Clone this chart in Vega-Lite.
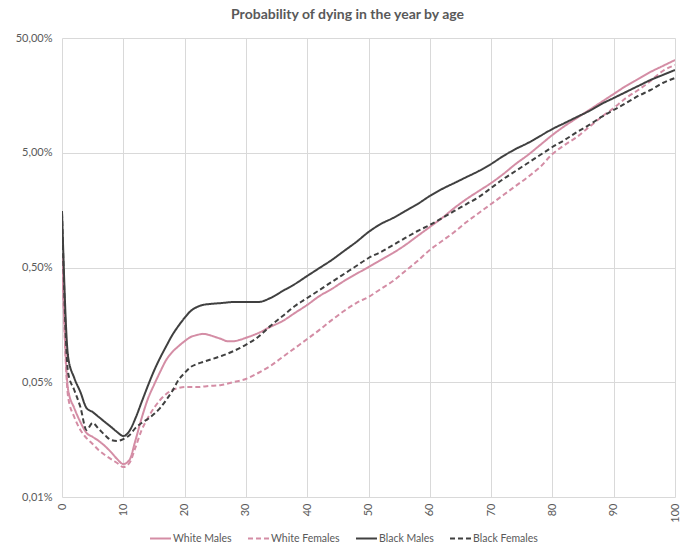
{
  "$schema": "https://vega.github.io/schema/vega-lite/v6.json",
  "width": 613,
  "height": 459,
  "autosize": "none",
  "padding": {"left": 62, "top": 38, "right": 10, "bottom": 56},
  "background": "white",
  "title": {"text": "Probability of dying in the year by age", "font": "Lato", "fontSize": 14, "fontWeight": "bold", "color": "#595959", "anchor": "middle", "frame": "bounds", "offset": 10},
  "data": {"values": [
    {"age":0,"group":"White Males","p":0.00642},{"age":1,"group":"White Males","p":0.000428},{"age":2,"group":"White Males","p":0.000298},{"age":3,"group":"White Males","p":0.000225},{"age":4,"group":"White Males","p":0.000181},{"age":5,"group":"White Males","p":0.000167},{"age":6,"group":"White Males","p":0.000154},{"age":7,"group":"White Males","p":0.000139},{"age":8,"group":"White Males","p":0.000123},{"age":9,"group":"White Males","p":0.000107},{"age":10,"group":"White Males","p":0.0000969},{"age":11,"group":"White Males","p":0.000105},{"age":12,"group":"White Males","p":0.000157},{"age":13,"group":"White Males","p":0.000244},{"age":14,"group":"White Males","p":0.000357},{"age":15,"group":"White Males","p":0.000473},{"age":16,"group":"White Males","p":0.000614},{"age":17,"group":"White Males","p":0.000782},{"age":18,"group":"White Males","p":0.000918},{"age":19,"group":"White Males","p":0.00103},{"age":20,"group":"White Males","p":0.00114},{"age":21,"group":"White Males","p":0.00124},{"age":22,"group":"White Males","p":0.00129},{"age":23,"group":"White Males","p":0.00132},{"age":24,"group":"White Males","p":0.00129},{"age":25,"group":"White Males","p":0.00124},{"age":26,"group":"White Males","p":0.00119},{"age":27,"group":"White Males","p":0.00114},{"age":28,"group":"White Males","p":0.00114},{"age":29,"group":"White Males","p":0.00117},{"age":30,"group":"White Males","p":0.00122},{"age":32,"group":"White Males","p":0.00134},{"age":34,"group":"White Males","p":0.00152},{"age":36,"group":"White Males","p":0.00171},{"age":38,"group":"White Males","p":0.00201},{"age":40,"group":"White Males","p":0.00236},{"age":42,"group":"White Males","p":0.00282},{"age":44,"group":"White Males","p":0.00325},{"age":46,"group":"White Males","p":0.00381},{"age":48,"group":"White Males","p":0.00439},{"age":50,"group":"White Males","p":0.00505},{"age":52,"group":"White Males","p":0.00581},{"age":54,"group":"White Males","p":0.00669},{"age":56,"group":"White Males","p":0.00785},{"age":58,"group":"White Males","p":0.00941},{"age":60,"group":"White Males","p":0.01127},{"age":62,"group":"White Males","p":0.0135},{"age":64,"group":"White Males","p":0.0165},{"age":66,"group":"White Males","p":0.01976},{"age":68,"group":"White Males","p":0.02321},{"age":70,"group":"White Males","p":0.02724},{"age":72,"group":"White Males","p":0.03265},{"age":74,"group":"White Males","p":0.0399},{"age":76,"group":"White Males","p":0.04779},{"age":78,"group":"White Males","p":0.0584},{"age":80,"group":"White Males","p":0.0714},{"age":82,"group":"White Males","p":0.0855},{"age":84,"group":"White Males","p":0.1004},{"age":86,"group":"White Males","p":0.1179},{"age":88,"group":"White Males","p":0.1384},{"age":90,"group":"White Males","p":0.1626},{"age":92,"group":"White Males","p":0.1909},{"age":94,"group":"White Males","p":0.2196},{"age":96,"group":"White Males","p":0.2528},{"age":98,"group":"White Males","p":0.2851},{"age":100,"group":"White Males","p":0.3214},

    {"age":0,"group":"White Females","p":0.00642},{"age":1,"group":"White Females","p":0.000372},{"age":2,"group":"White Females","p":0.000249},{"age":3,"group":"White Females","p":0.000192},{"age":4,"group":"White Females","p":0.000163},{"age":5,"group":"White Females","p":0.000145},{"age":6,"group":"White Females","p":0.000128},{"age":7,"group":"White Females","p":0.000116},{"age":8,"group":"White Females","p":0.000107},{"age":9,"group":"White Females","p":0.0000989},{"age":10,"group":"White Females","p":0.0000913},{"age":11,"group":"White Females","p":0.0000989},{"age":12,"group":"White Females","p":0.000136},{"age":13,"group":"White Females","p":0.000192},{"age":14,"group":"White Females","p":0.000244},{"age":15,"group":"White Females","p":0.000298},{"age":16,"group":"White Females","p":0.00035},{"age":17,"group":"White Females","p":0.000395},{"age":18,"group":"White Females","p":0.000428},{"age":19,"group":"White Females","p":0.000445},{"age":20,"group":"White Females","p":0.000454},{"age":22,"group":"White Females","p":0.000454},{"age":24,"group":"White Females","p":0.000464},{"age":26,"group":"White Females","p":0.000473},{"age":28,"group":"White Females","p":0.000502},{"age":30,"group":"White Females","p":0.000534},{"age":32,"group":"White Females","p":0.000602},{"age":34,"group":"White Females","p":0.000693},{"age":36,"group":"White Females","p":0.00083},{"age":38,"group":"White Females","p":0.000994},{"age":40,"group":"White Females","p":0.00119},{"age":42,"group":"White Females","p":0.00143},{"age":44,"group":"White Females","p":0.00174},{"age":46,"group":"White Females","p":0.00209},{"age":48,"group":"White Females","p":0.00245},{"age":50,"group":"White Females","p":0.00277},{"age":52,"group":"White Females","p":0.00325},{"age":54,"group":"White Females","p":0.00381},{"age":56,"group":"White Females","p":0.00466},{"age":58,"group":"White Females","p":0.0057},{"age":60,"group":"White Females","p":0.0071},{"age":62,"group":"White Females","p":0.00851},{"age":64,"group":"White Females","p":0.01019},{"age":66,"group":"White Females","p":0.01246},{"age":68,"group":"White Females","p":0.01493},{"age":70,"group":"White Females","p":0.01787},{"age":72,"group":"White Females","p":0.02141},{"age":74,"group":"White Females","p":0.02566},{"age":76,"group":"White Females","p":0.03073},{"age":78,"group":"White Females","p":0.03757},{"age":80,"group":"White Females","p":0.04876},{"age":82,"group":"White Females","p":0.0584},{"age":84,"group":"White Females","p":0.0686},{"age":86,"group":"White Females","p":0.0838},{"age":88,"group":"White Females","p":0.1025},{"age":90,"group":"White Females","p":0.1227},{"age":92,"group":"White Females","p":0.15},{"age":94,"group":"White Females","p":0.1761},{"age":96,"group":"White Females","p":0.211},{"age":98,"group":"White Females","p":0.2579},{"age":100,"group":"White Females","p":0.2908},

    {"age":0,"group":"Black Males","p":0.01554},{"age":1,"group":"Black Males","p":0.00083},{"age":2,"group":"Black Males","p":0.000545},{"age":3,"group":"Black Males","p":0.000411},{"age":4,"group":"Black Males","p":0.000298},{"age":5,"group":"Black Males","p":0.000275},{"age":6,"group":"Black Males","p":0.000249},{"age":7,"group":"Black Males","p":0.000225},{"age":8,"group":"Black Males","p":0.000204},{"age":9,"group":"Black Males","p":0.000184},{"age":10,"group":"Black Males","p":0.00017},{"age":11,"group":"Black Males","p":0.000188},{"age":12,"group":"Black Males","p":0.000244},{"age":13,"group":"Black Males","p":0.000337},{"age":14,"group":"Black Males","p":0.000464},{"age":15,"group":"Black Males","p":0.000627},{"age":16,"group":"Black Males","p":0.000814},{"age":17,"group":"Black Males","p":0.00103},{"age":18,"group":"Black Males","p":0.00129},{"age":19,"group":"Black Males","p":0.00155},{"age":20,"group":"Black Males","p":0.00182},{"age":21,"group":"Black Males","p":0.00209},{"age":22,"group":"Black Males","p":0.00226},{"age":23,"group":"Black Males","p":0.00236},{"age":24,"group":"Black Males","p":0.0024},{"age":26,"group":"Black Males","p":0.00245},{"age":28,"group":"Black Males","p":0.0025},{"age":30,"group":"Black Males","p":0.0025},{"age":32,"group":"Black Males","p":0.0025},{"age":34,"group":"Black Males","p":0.00271},{"age":36,"group":"Black Males","p":0.00312},{"age":38,"group":"Black Males","p":0.00359},{"age":40,"group":"Black Males","p":0.00422},{"age":42,"group":"Black Males","p":0.00495},{"age":44,"group":"Black Males","p":0.00581},{"age":46,"group":"Black Males","p":0.00696},{"age":48,"group":"Black Males","p":0.00834},{"age":50,"group":"Black Males","p":0.01019},{"age":52,"group":"Black Males","p":0.01197},{"age":54,"group":"Black Males","p":0.0135},{"age":56,"group":"Black Males","p":0.01554},{"age":58,"group":"Black Males","p":0.01787},{"age":60,"group":"Black Males","p":0.02099},{"age":62,"group":"Black Males","p":0.02416},{"age":64,"group":"Black Males","p":0.02724},{"age":66,"group":"Black Males","p":0.03073},{"age":68,"group":"Black Males","p":0.03467},{"age":70,"group":"Black Males","p":0.0399},{"age":72,"group":"Black Males","p":0.04684},{"age":74,"group":"Black Males","p":0.0539},{"age":76,"group":"Black Males","p":0.0608},{"age":78,"group":"Black Males","p":0.07},{"age":80,"group":"Black Males","p":0.0805},{"age":82,"group":"Black Males","p":0.0908},{"age":84,"group":"Black Males","p":0.1025},{"age":86,"group":"Black Males","p":0.1156},{"age":88,"group":"Black Males","p":0.133},{"age":90,"group":"Black Males","p":0.15},{"age":92,"group":"Black Males","p":0.1692},{"age":94,"group":"Black Males","p":0.1909},{"age":96,"group":"Black Males","p":0.2152},{"age":98,"group":"Black Males","p":0.238},{"age":100,"group":"Black Males","p":0.2631},

    {"age":0,"group":"Black Females","p":0.01493},{"age":1,"group":"Black Females","p":0.000602},{"age":2,"group":"Black Females","p":0.000428},{"age":3,"group":"Black Females","p":0.000304},{"age":4,"group":"Black Females","p":0.000192},{"age":5,"group":"Black Females","p":0.000221},{"age":6,"group":"Black Females","p":0.000196},{"age":7,"group":"Black Females","p":0.000173},{"age":8,"group":"Black Females","p":0.000157},{"age":9,"group":"Black Females","p":0.000154},{"age":10,"group":"Black Females","p":0.00016},{"age":11,"group":"Black Females","p":0.000173},{"age":12,"group":"Black Females","p":0.0002},{"age":13,"group":"Black Females","p":0.000221},{"age":14,"group":"Black Females","p":0.000239},{"age":15,"group":"Black Females","p":0.000264},{"age":16,"group":"Black Females","p":0.000298},{"age":17,"group":"Black Females","p":0.00035},{"age":18,"group":"Black Females","p":0.000419},{"age":19,"group":"Black Females","p":0.000523},{"age":20,"group":"Black Females","p":0.000602},{"age":21,"group":"Black Females","p":0.000679},{"age":22,"group":"Black Females","p":0.000721},{"age":23,"group":"Black Females","p":0.000751},{"age":24,"group":"Black Females","p":0.000782},{"age":26,"group":"Black Females","p":0.000847},{"age":28,"group":"Black Females","p":0.000936},{"age":30,"group":"Black Females","p":0.00106},{"age":32,"group":"Black Females","p":0.00124},{"age":34,"group":"Black Females","p":0.00155},{"age":36,"group":"Black Females","p":0.00189},{"age":38,"group":"Black Females","p":0.00231},{"age":40,"group":"Black Females","p":0.00271},{"age":42,"group":"Black Females","p":0.00318},{"age":44,"group":"Black Females","p":0.00374},{"age":46,"group":"Black Females","p":0.00439},{"age":48,"group":"Black Females","p":0.00515},{"age":50,"group":"Black Females","p":0.00605},{"age":52,"group":"Black Females","p":0.00682},{"age":54,"group":"Black Females","p":0.00785},{"age":56,"group":"Black Females","p":0.00904},{"age":58,"group":"Black Females","p":0.0104},{"age":60,"group":"Black Females","p":0.01173},{"age":62,"group":"Black Females","p":0.0135},{"age":64,"group":"Black Females","p":0.01554},{"age":66,"group":"Black Females","p":0.01787},{"age":68,"group":"Black Females","p":0.02057},{"age":70,"group":"Black Females","p":0.02465},{"age":72,"group":"Black Females","p":0.02952},{"age":74,"group":"Black Females","p":0.03467},{"age":76,"group":"Black Females","p":0.0407},{"age":78,"group":"Black Females","p":0.04779},{"age":80,"group":"Black Females","p":0.0561},{"age":82,"group":"Black Females","p":0.0646},{"age":84,"group":"Black Females","p":0.0758},{"age":86,"group":"Black Females","p":0.0873},{"age":88,"group":"Black Females","p":0.1025},{"age":90,"group":"Black Females","p":0.1179},{"age":92,"group":"Black Females","p":0.1357},{"age":94,"group":"Black Females","p":0.1562},{"age":96,"group":"Black Females","p":0.1761},{"age":98,"group":"Black Females","p":0.2027},{"age":100,"group":"Black Females","p":0.2241}
  ]},
  "mark": {"type": "line", "strokeWidth": 2, "interpolate": "monotone", "clip": true},
  "encoding": {
    "x": {"field": "age", "type": "quantitative",
      "scale": {"domain": [0, 100], "nice": false},
      "axis": {"title": null, "values": [0,10,20,30,40,50,60,70,80,90,100], "labelAngle": -90, "labelFont": "Lato", "labelFontSize": 11, "labelColor": "#595959", "labelPadding": 6, "ticks": false, "domain": false, "grid": true, "gridColor": "#D9D9D9", "gridWidth": 1}},
    "y": {"field": "p", "type": "quantitative",
      "scale": {"type": "log", "domain": [0.00005, 0.5], "nice": false},
      "axis": {"title": null, "values": [0.00005, 0.0005, 0.005, 0.05, 0.5], "labelExpr": "datum.value < 0.0001 ? '0,01%' : replace(format(datum.value, '.2%'), '.', ',')", "labelFont": "Lato", "labelFontSize": 11, "labelColor": "#595959", "labelPadding": 10, "ticks": false, "domain": false, "grid": true, "gridColor": "#D9D9D9", "gridWidth": 1}},
    "color": {"field": "group", "type": "nominal",
      "scale": {"domain": ["White Males", "White Females", "Black Males", "Black Females"], "range": ["#D48DA5", "#D48DA5", "#404040", "#404040"]},
      "legend": {"title": null, "orient": "none", "legendX": 87, "legendY": 489, "direction": "horizontal", "symbolType": "stroke", "symbolSize": 440, "symbolStrokeWidth": 2, "labelFont": "Lato", "labelFontSize": 10.5, "labelColor": "#595959", "labelOffset": 1, "columnPadding": 12}},
    "strokeDash": {"field": "group", "type": "nominal",
      "scale": {"domain": ["White Males", "White Females", "Black Males", "Black Females"], "range": [[1, 0], [5, 3], [1, 0], [5, 3]]},
      "legend": {"title": null, "orient": "none", "legendX": 87, "legendY": 489, "direction": "horizontal", "symbolType": "stroke", "symbolSize": 440, "symbolStrokeWidth": 2, "labelFont": "Lato", "labelFontSize": 10.5, "labelColor": "#595959", "labelOffset": 1, "columnPadding": 12}}
  },
  "config": {"view": {"stroke": null}}
}
